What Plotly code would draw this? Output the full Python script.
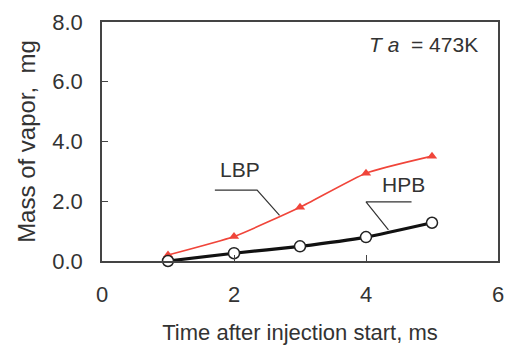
import plotly.graph_objects as go

time_ms = [1, 2, 3, 4, 5]
lbp_mass = [0.2, 0.82, 1.8, 2.94, 3.51]
hpb_mass = [0.0, 0.26, 0.49, 0.80, 1.28]

x_ticks = [0, 2, 4, 6]
y_ticks = [0, 2, 4, 6, 8]
y_ticklabels = ["0.0", "2.0", "4.0", "6.0", "8.0"]

font_family = "Liberation Sans, Arial, sans-serif"
txt = "#333333"
axc = "#444444"

fig = go.Figure()
fig.add_trace(go.Scatter(
    x=time_ms, y=lbp_mass, mode="lines+markers", name="LBP",
    line=dict(color="#f0453a", width=1.6, shape="spline", smoothing=0.5),
    marker=dict(symbol="triangle-up", size=9, color="#f0453a"),
    cliponaxis=False, showlegend=False))
fig.add_trace(go.Scatter(
    x=time_ms, y=hpb_mass, mode="lines+markers", name="HPB",
    line=dict(color="#111111", width=3.2, shape="spline", smoothing=0.5),
    marker=dict(symbol="circle", size=11, color="white",
                line=dict(color="#222222", width=1.5)),
    cliponaxis=False, showlegend=False))

# leader lines for labels
fig.add_trace(go.Scatter(x=[1.71, 2.35, 2.69], y=[2.37, 2.37, 1.53], mode="lines",
                         line=dict(color="#333333", width=1.2), showlegend=False, hoverinfo="skip"))
fig.add_trace(go.Scatter(x=[4.69, 4.0, 4.34], y=[1.98, 1.98, 1.04], mode="lines",
                         line=dict(color="#333333", width=1.2), showlegend=False, hoverinfo="skip"))

fig.add_annotation(x=2.09, y=3.06, text="LBP", showarrow=False,
                   font=dict(size=21, color=txt, family=font_family))
fig.add_annotation(x=4.57, y=2.57, text="HPB", showarrow=False,
                   font=dict(size=21, color=txt, family=font_family))
fig.add_annotation(x=0.955, y=0.905, xref="paper", yref="paper", xanchor="right",
                   yanchor="middle",
                   text="<i>T a</i>  = 473K",
                   showarrow=False,
                   font=dict(size=21, color=txt, family=font_family))

fig.update_xaxes(range=[0, 6], tickvals=x_ticks, ticks="inside", ticklen=6,
                 tickcolor=axc, showline=True, linecolor=axc, linewidth=1.5,
                 mirror=True, showgrid=False, zeroline=False,
                 ticklabelstandoff=13,
                 tickfont=dict(size=22, color=txt, family=font_family),
                 title=dict(text="Time after injection start, ms", standoff=18,
                            font=dict(size=22, color=txt, family=font_family)))
fig.update_yaxes(range=[0, 8], tickvals=y_ticks, ticktext=y_ticklabels,
                 ticks="inside", ticklen=6, tickcolor=axc,
                 showline=True, linecolor=axc, linewidth=1.5, mirror=True,
                 showgrid=False, zeroline=False, ticklabelstandoff=13,
                 tickfont=dict(size=22, color=txt, family=font_family),
                 title=dict(text="Mass of vapor,  mg", standoff=10,
                            font=dict(size=24, color=txt, family=font_family)))

fig.update_layout(width=514, height=351, margin=dict(l=102, r=10, t=16, b=89),
                  paper_bgcolor="white", plot_bgcolor="white")

fig.write_html("out.html")
